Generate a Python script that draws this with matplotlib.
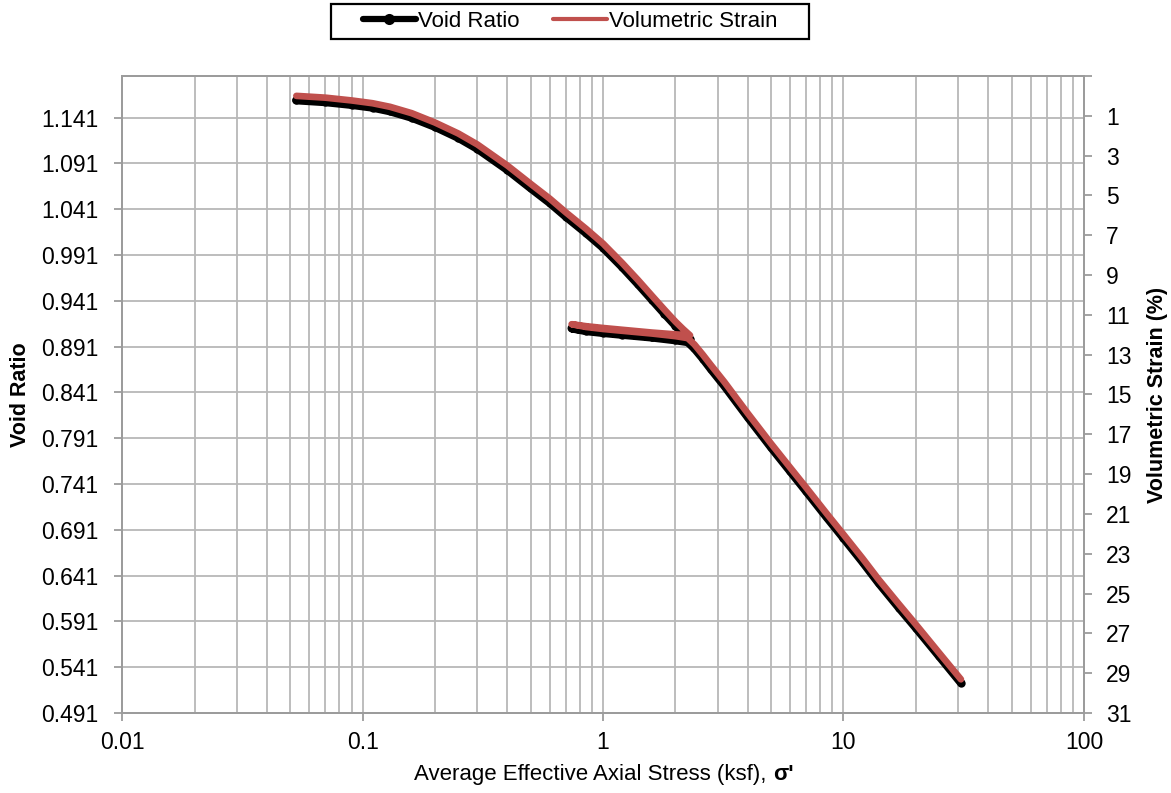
import matplotlib
matplotlib.use("Agg")
import matplotlib.pyplot as plt
from matplotlib.ticker import FixedLocator, NullFormatter, LogLocator
from matplotlib.patches import Rectangle

plt.rcParams['font.family'] = ['Liberation Sans', 'DejaVu Sans']

# Datos (carga, descarga, recarga, carga)
stress = [0.053, 0.07, 0.09, 0.11, 0.13, 0.16, 0.2, 0.25, 0.3, 0.4, 0.5, 0.6, 0.7, 0.85, 1.0,
          1.2, 1.4, 1.6, 1.8, 2.0, 2.15, 2.3,
          2.0, 1.6, 1.2, 1.0, 0.85, 0.74,
          0.85, 1.0, 1.2, 1.6, 2.0, 2.25,
          2.4, 2.6, 2.8, 3.2, 3.6, 4.0, 5.0, 6.0, 7.0, 8.5, 10.0, 12.0, 14.0, 17.0, 20.0, 25.0, 30.8]
void_ratio = [1.160, 1.158, 1.155, 1.152, 1.148, 1.141, 1.131, 1.119, 1.107, 1.084, 1.064, 1.048,
              1.033, 1.015, 0.999, 0.978, 0.959, 0.942, 0.927, 0.914, 0.906, 0.899,
              0.900, 0.902, 0.905, 0.907, 0.909, 0.911,
              0.908, 0.906, 0.904, 0.901, 0.898, 0.896,
              0.889, 0.878, 0.867, 0.848, 0.830, 0.814, 0.781, 0.755, 0.733, 0.705, 0.682, 0.656,
              0.633, 0.606, 0.584, 0.553, 0.524]
vol_strain = [0.00, 0.09, 0.23, 0.37, 0.55, 0.87, 1.34, 1.89, 2.44, 3.50, 4.42, 5.16,
              5.85, 6.68, 7.42, 8.39, 9.26, 10.05, 10.74, 11.34, 11.71, 12.03,
              11.98, 11.89, 11.75, 11.66, 11.57, 11.47,
              11.61, 11.71, 11.80, 11.94, 12.07, 12.17,
              12.49, 13.00, 13.50, 14.38, 15.21, 15.95, 17.47, 18.67, 19.68, 20.97, 22.03, 23.23,
              24.29, 25.53, 26.55, 27.98, 29.31]

x_ticks = [0.01, 0.1, 1, 10, 100]
x_tick_labels = ["0.01", "0.1", "1", "10", "100"]
e_ticks = [0.491 + 0.05 * i for i in range(14)]
strain_ticks = list(range(-1, 32, 2))

GRID = "#b8b8b8"
SPINE = "#9c9c9c"
RED = "#C0504D"
FS = 16.5

fig = plt.figure(figsize=(11.71, 7.93), dpi=100)
ax = fig.add_axes([0.1044, 0.1009, 0.8212, 0.8033])
ax2 = ax.twinx()

ax.plot(stress, void_ratio, color="black", lw=6, marker="o", ms=6, mew=0,
        solid_capstyle="round", solid_joinstyle="round", label="Void Ratio", zorder=3)
ax2.plot(stress, vol_strain, color=RED, lw=4.8,
         solid_capstyle="round", solid_joinstyle="round", label="Volumetric Strain", zorder=3)

# eje x logaritmico
ax.set_xscale("log")
ax.set_xlim(0.01, 100)
ax.xaxis.set_major_locator(FixedLocator(x_ticks))
ax.set_xticklabels(x_tick_labels)
ax.xaxis.set_minor_locator(LogLocator(base=10, subs=range(2, 10), numticks=20))
ax.xaxis.set_minor_formatter(NullFormatter())

# eje izquierdo: relacion de vacios
ax.set_ylim(0.491, 1.1865)
ax.set_yticks(e_ticks)
ax.set_yticklabels([f"{v:.3f}" for v in e_ticks])

# eje derecho: deformacion volumetrica (invertido)
ax2.set_ylim(31, -1)
ax2.set_yticks(strain_ticks)
ax2.set_yticklabels([""] + [str(v) for v in strain_ticks[1:]])

ax.grid(True, which="both", axis="x", color=GRID, lw=1.3)
ax.grid(True, which="major", axis="y", color=GRID, lw=1.3)
ax.set_axisbelow(True)

for a in (ax, ax2):
    for s in a.spines.values():
        s.set_color(SPINE)
        s.set_linewidth(1.3)
ax.tick_params(axis="x", which="major", direction="out", length=6, width=1.3, color=SPINE,
               labelsize=FS, pad=7)
ax.tick_params(axis="x", which="minor", length=0)
ax.tick_params(axis="y", direction="out", length=6, width=1.3, color=SPINE, labelsize=FS, pad=11)
ax2.tick_params(axis="y", direction="out", length=6, width=1.3, color=SPINE, labelsize=FS, pad=10)

ax.set_ylabel("Void Ratio", fontsize=15.5, fontweight="bold")
ax.yaxis.set_label_coords(-0.095, 0.5)
ax2.set_ylabel("Volumetric Strain (%)", fontsize=15.5, fontweight="bold")
ax2.yaxis.set_label_coords(1.066, 0.5)

xlab = ax.set_xlabel("Average Effective Axial Stress (ksf), ", fontsize=16,
                     family=["Liberation Sans Narrow", "Liberation Sans"])
ax.xaxis.set_label_coords(0.49, -0.097)
xlab.set_verticalalignment("center")
ax.annotate("σ'", xy=(1, 0.5), xycoords=xlab, ha="left", va="center",
            fontsize=16, fontweight="bold", annotation_clip=False)

# leyenda arriba con marco negro
h1, l1 = ax.get_legend_handles_labels()
h2, l2 = ax2.get_legend_handles_labels()
leg = fig.legend(h1 + h2, l1 + l2, loc="center", bbox_to_anchor=(0.4868, 0.9727), ncol=2,
                 frameon=False, fontsize=16, handlelength=2.4, handletextpad=0.1,
                 columnspacing=1.5, numpoints=1)
leg.legend_handles[0].set_linewidth(4.5)
leg.legend_handles[0].set_markersize(8)
leg.legend_handles[1].set_linewidth(3)
fig.patches.append(Rectangle((330.7 / 1171, 1 - 39.3 / 793), (809.3 - 330.7) / 1171, 35.3 / 793,
                             transform=fig.transFigure, fill=False, edgecolor="black", lw=1.6))

fig.savefig("out.png", dpi=100)
